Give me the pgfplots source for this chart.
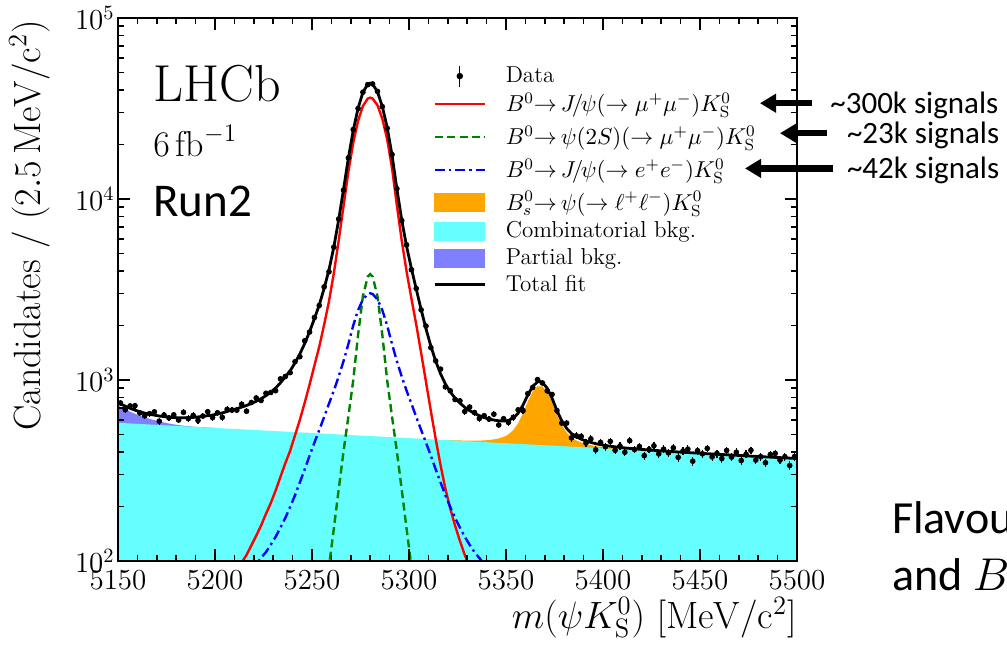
\RequirePackage{fix-cm}
\documentclass[border=0pt]{standalone}
\usepackage{fontspec}
\newfontfamily\carlito{Carlito}
\usepackage{pgfplots}
\pgfplotsset{compat=1.18}
\usepackage{pgfplotstable}
\usetikzlibrary{arrows.meta}
\definecolor{combc}{RGB}{102,255,255}
\definecolor{partc}{RGB}{128,128,255}
\definecolor{bsc}{RGB}{255,165,0}
\definecolor{grn}{RGB}{0,128,0}
\DeclareRobustCommand\legData{Data}
\DeclareRobustCommand\legRed{$B^0{\to}\, J\mskip-3mu/\mskip-2mu\psi(\to\mu^+\mu^-)K^0_{\mathrm{S}}$}
\DeclareRobustCommand\legGreen{$B^0{\to}\,\psi(2S)(\to\mu^+\mu^-)K^0_{\mathrm{S}}$}
\DeclareRobustCommand\legBlue{$B^0{\to}\, J\mskip-3mu/\mskip-2mu\psi(\to e^+e^-)K^0_{\mathrm{S}}$}
\DeclareRobustCommand\legBs{$B^0_s{\to}\,\psi(\to\ell^+\ell^-)K^0_{\mathrm{S}}$}
\DeclareRobustCommand\legComb{Combinatorial bkg.}
\DeclareRobustCommand\legPart{Partial bkg.}
\DeclareRobustCommand\legTot{Total fit}

\pgfplotstableread{
x y e
5151.25 747 27
5153.75 685 27
5156.25 719 26
5158.75 721 26
5161.25 658 26
5163.75 634 26
5166.25 652 25
5168.75 667 25
5171.25 592 25
5173.75 640 25
5176.25 618 25
5178.75 642 25
5181.25 601 25
5183.75 663 25
5186.25 612 25
5188.75 637 25
5191.25 598 25
5193.75 632 25
5196.25 668 25
5198.75 620 25
5201.25 659 25
5203.75 622 26
5206.25 688 26
5208.75 682 26
5211.25 681 26
5213.75 735 27
5216.25 672 27
5218.75 751 27
5221.25 796 28
5223.75 771 28
5226.25 845 29
5228.75 853 29
5231.25 873 30
5233.75 1015 31
5236.25 1046 32
5238.75 1098 34
5241.25 1262 35
5243.75 1345 37
5246.25 1647 40
5248.75 1841 43
5251.25 2215 47
5253.75 2581 51
5256.25 3269 57
5258.75 3961 64
5261.25 5416 74
5263.75 7753 88
5266.25 11197 106
5268.75 16875 130
5271.25 24174 155
5273.75 31637 178
5276.25 38921 197
5278.75 42841 208
5281.25 43213 208
5283.75 39335 198
5286.25 32372 180
5288.75 24591 158
5291.25 17601 132
5293.75 11406 107
5296.25 7602 88
5298.75 5578 74
5301.25 4065 64
5303.75 3204 56
5306.25 2440 50
5308.75 1987 44
5311.25 1510 39
5313.75 1275 36
5316.25 1149 33
5318.75 917 31
5321.25 872 29
5323.75 780 28
5326.25 767 27
5328.75 670 27
5331.25 709 26
5333.75 661 26
5336.25 613 25
5338.75 635 25
5341.25 608 25
5343.75 647 25
5346.25 564 24
5348.75 611 24
5351.25 583 24
5353.75 622 25
5356.25 684 26
5358.75 678 27
5361.25 841 29
5363.75 909 30
5366.25 1005 31
5368.75 963 31
5371.25 871 30
5373.75 832 28
5376.25 678 26
5378.75 578 24
5381.25 578 23
5383.75 479 22
5386.25 492 22
5388.75 488 22
5391.25 449 21
5393.75 473 21
5396.25 411 21
5398.75 452 21
5401.25 428 21
5403.75 458 21
5406.25 409 21
5408.75 432 21
5411.25 399 21
5413.75 462 20
5416.25 413 20
5418.75 429 20
5421.25 382 20
5423.75 413 20
5426.25 433 20
5428.75 391 20
5431.25 415 20
5433.75 396 20
5436.25 422 20
5438.75 374 20
5441.25 405 20
5443.75 415 20
5446.25 356 20
5448.75 407 20
5451.25 391 20
5453.75 419 20
5456.25 376 20
5458.75 393 20
5461.25 368 20
5463.75 408 20
5466.25 375 20
5468.75 399 20
5471.25 359 20
5473.75 389 20
5476.25 409 20
5478.75 361 19
5481.25 377 19
5483.75 349 19
5486.25 388 19
5488.75 393 19
5491.25 361 19
5493.75 377 19
5496.25 337 19
5498.75 378 19
}\datatab

\pgfplotstableread{
x y
5150 749
5151.25 738.5
5153.75 717
5156.25 697.6
5158.75 681.5
5161.25 668.1
5163.75 656.6
5166.25 646.9
5168.75 639.6
5171.25 632.6
5173.75 627.4
5176.25 622.9
5178.75 620.1
5181.25 618.9
5183.75 618.6
5186.25 619.8
5188.75 621.7
5191.25 625.2
5193.75 629.9
5196.25 635.1
5198.75 640.4
5201.25 648.6
5203.75 657.8
5206.25 670.1
5208.75 682.3
5211.25 694.6
5213.75 708.8
5216.25 723.1
5218.75 742.4
5221.25 762.6
5223.75 787.9
5226.25 819.3
5228.75 855.6
5231.25 902.9
5233.75 965.2
5236.25 1039.5
5238.75 1124.3
5241.25 1244
5243.75 1393.5
5246.25 1590.8
5248.75 1849.2
5251.25 2182.5
5253.75 2600.9
5256.25 3206.2
5258.75 4056.6
5261.25 5416
5263.75 7683
5266.25 11293
5268.75 16836
5271.25 23911
5273.75 31744
5276.25 38842
5278.75 43090
5280 43650
5281.25 43088
5283.75 39137
5286.25 32426
5288.75 24859
5291.25 17482
5293.75 11385
5296.25 7663
5298.75 5482
5301.25 4129
5303.75 3176
5306.25 2450
5308.75 1921
5311.25 1541
5313.75 1271
5316.25 1083
5318.75 951
5321.25 860.6
5323.75 794
5326.25 745.4
5328.75 706.7
5331.25 678.1
5333.75 653.1
5336.25 635.6
5338.75 619.7
5341.25 610.3
5343.75 600.8
5346.25 595.3
5348.75 593.9
5351.25 597.5
5353.75 617
5356.25 655.6
5358.75 726.1
5361.25 826.7
5363.75 921.3
5366.25 976.8
5367.5 981
5368.75 969.4
5371.25 901
5373.75 792.6
5376.25 678.2
5378.75 594.8
5381.25 540.9
5383.75 506
5386.25 485.1
5388.75 470.8
5391.25 460.1
5393.75 451.9
5396.25 444.8
5398.75 439.4
5401.25 434.7
5403.75 430.6
5406.25 427.4
5408.75 424.2
5411.25 421.4
5413.75 418.9
5416.25 416.7
5418.75 414.6
5421.25 412.5
5426.25 408.7
5431.25 405.1
5436.25 401.9
5441.25 398.9
5446.25 395.9
5451.25 393.1
5456.25 390.3
5461.25 387.6
5466.25 385.0
5471.25 382.4
5476.25 379.8
5481.25 377.3
5486.25 374.9
5491.25 372.4
5496.25 370.0
5500 368.4
}\totaltab

\begin{document}
\begin{tikzpicture}[x=1pt,y=1pt]
\useasboundingbox (0,0) rectangle (503.5,330.5);
\clip (0,0) rectangle (503.5,330.5);
\begin{axis}[
  at={(59pt,50pt)}, anchor=south west,
  scale only axis, width=339.5pt, height=271.5pt,
  ymode=log, xmin=5150, xmax=5500, ymin=100, ymax=100000,
  xtick={5150,5200,...,5500}, minor x tick num=4,
  /pgf/number format/set thousands separator={},
  tick align=inside, tick pos=both,
  major tick length=6pt, minor tick length=3pt,
  every tick/.style={black, line width=0.8pt},
  axis line style={line width=1pt},
  axis on top,
  tick label style={font=\fontsize{14.5}{17}\selectfont},
  xticklabel style={inner ysep=0pt, yshift=-4.5pt},
  yticklabel style={inner xsep=0pt, xshift=-1.5pt},
  label style={font=\fontsize{19}{22}\selectfont},
  xlabel={$m(\psi K^0_{\mathrm{S}})$ $[\mathrm{MeV}/\mathrm{c}^2]$},
  xlabel style={at={(axis description cs:1,0)}, anchor=north east, inner sep=0pt, yshift=-18pt},
  ylabel={Candidates / $(2.5\,\mathrm{MeV}/\mathrm{c}^2)$},
  ylabel style={at={(axis description cs:-0.100,0.9963)}, anchor=south east, inner sep=0pt},
  legend cell align=left,
  legend style={draw=none, fill=none, at={(axis description cs:0.4639,0.9147)}, anchor=north west, inner sep=0pt, row sep=0pt, nodes={inner sep=0pt}, font=\fontsize{11.5}{13.8}\selectfont, /tikz/every odd column/.append style={column sep=9.8pt}},
]
\addlegendimage{legend image code/.code={\path (0pt,-5.5pt) (25pt,5.5pt); \draw[black,line width=0.7pt] (12.5pt,-5.2pt)--(12.5pt,5.2pt); \fill[black] (12.5pt,0pt) circle (1.4pt);}}
\addlegendentry{\legData}
\addlegendimage{legend image code/.code={\path (0pt,-7.9pt) (25pt,7.9pt); \draw[red,line width=1.2pt] (0pt,0pt)--(25pt,0pt);}}
\addlegendentry{\legRed}
\addlegendimage{legend image code/.code={\path (0pt,-8.3pt) (25pt,8.3pt); \draw[grn,line width=1.2pt,dash pattern=on 4pt off 2.2pt] (0pt,0pt)--(25pt,0pt);}}
\addlegendentry{\legGreen}
\addlegendimage{legend image code/.code={\path (0pt,-7.8pt) (25pt,7.8pt); \draw[blue,line width=1.2pt,dash pattern=on 5pt off 2pt on 1.2pt off 2pt] (0pt,0pt)--(25pt,0pt);}}
\addlegendentry{\legBlue}
\addlegendimage{legend image code/.code={\path (0pt,-8.0pt) (25pt,8.0pt); \fill[bsc] (0pt,-4.5pt) rectangle (25pt,4.5pt);}}
\addlegendentry{\legBs}
\addlegendimage{legend image code/.code={\path (0pt,-6.0pt) (25pt,6.0pt); \fill[combc] (0pt,-4.5pt) rectangle (25pt,4.5pt);}}
\addlegendentry{\legComb}
\addlegendimage{legend image code/.code={\path (0pt,-7.0pt) (25pt,7.0pt); \fill[partc] (0pt,-4.5pt) rectangle (25pt,4.5pt);}}
\addlegendentry{\legPart}
\addlegendimage{legend image code/.code={\path (0pt,-6.0pt) (25pt,6.0pt); \draw[black,line width=1.4pt] (0pt,0pt)--(25pt,0pt);}}
\addlegendentry{\legTot}

\addplot[fill=partc, draw=none, forget plot] coordinates {(5150,100) (5150,725) (5151.25,712.1) (5153.75,689.2) (5156.25,668.3) (5158.75,650.5) (5161.25,635.6) (5163.75,621.8) (5166.25,609.9) (5168.75,600.1) (5171.25,590.3) (5173.75,582.4) (5176.25,575) (5178.75,568.7) (5181.25,563.4) (5183.75,559.1) (5186.25,555.8) (5188.75,552.7) (5191.25,550.2) (5200,543.5) (5200,100)};
\addplot[fill=bsc, draw=none, forget plot] coordinates {(5318.75,100) (5318.75,465.5) (5321.25,465.1) (5323.75,464.0) (5326.25,463.4) (5328.75,462.7) (5331.25,462.1) (5333.75,462.1) (5336.25,462.6) (5338.75,463.7) (5341.25,466.3) (5343.75,469.8) (5346.25,475.3) (5348.75,484.9) (5351.25,500.5) (5353.75,529) (5356.25,576.6) (5358.75,654.1) (5361.25,760.7) (5363.75,863.3) (5366.25,923.8) (5368.75,922.4) (5371.25,859) (5373.75,753.6) (5376.25,644.2) (5378.75,563.8) (5381.25,513.4) (5383.75,482) (5386.25,463.6) (5388.75,451.2) (5391.25,442.8) (5393.75,436.5) (5396.25,431.1) (5398.75,427.1) (5401.25,423.8) (5403.75,420.9) (5406.25,418.7) (5408.75,416.5) (5411.25,414.6) (5413.75,412.8) (5413.75,100)};
\addplot[fill=combc, draw=none, forget plot] coordinates {(5150,100) (5150,580) (5500,368.3) (5500,100)};

\addplot[red, line width=1.2pt, forget plot] coordinates {(5203.75,62) (5206.25,71) (5208.75,79) (5211.25,88) (5213.75,98) (5216.25,108) (5218.75,122) (5221.25,138) (5223.75,157) (5226.25,182) (5228.75,209) (5231.25,245) (5233.75,292) (5236.25,347) (5238.75,407) (5241.25,495) (5243.75,603) (5246.25,750) (5248.75,944) (5251.25,1202) (5253.75,1530) (5256.25,2020) (5258.75,2720) (5261.25,3890) (5263.75,5890) (5266.25,9120) (5268.75,14130) (5271.25,20420) (5273.75,27040) (5276.25,32660) (5278.75,35890) (5280,36300) (5281.25,35890) (5283.75,32960) (5286.25,27730) (5288.75,21380) (5291.25,14790) (5293.75,9230) (5296.25,5890) (5298.75,3980) (5301.25,2820) (5303.75,2020) (5306.25,1413) (5308.75,977) (5311.25,676) (5313.75,473) (5316.25,339) (5318.75,251) (5321.25,195) (5323.75,157) (5326.25,129) (5328.75,108) (5331.25,93) (5333.75,79) (5336.25,69)};
\addplot[grn, line width=1.2pt, dash pattern=on 4pt off 2.2pt, forget plot] coordinates {(5253.75,34) (5256.25,57) (5258.75,93) (5261.25,151) (5263.75,248) (5266.25,403) (5268.75,628) (5271.25,995) (5273.75,1778) (5276.25,2904) (5278.75,3724) (5280,3846) (5281.25,3724) (5283.75,2904) (5286.25,1778) (5288.75,995) (5291.25,628) (5293.75,403) (5296.25,248) (5298.75,151) (5301.25,93) (5303.75,57) (5306.25,34)};
\addplot[blue, line width=1.2pt, dash pattern=on 5pt off 2pt on 1.2pt off 2pt, forget plot] coordinates {(5211.25,71) (5213.75,77) (5216.25,83) (5218.75,90) (5221.25,96) (5223.75,104) (5226.25,112) (5228.75,123) (5231.25,136) (5233.75,153) (5236.25,173) (5238.75,199) (5241.25,231) (5243.75,272) (5246.25,321) (5248.75,382) (5251.25,451) (5253.75,530) (5256.25,624) (5258.75,740) (5261.25,873) (5263.75,1045) (5266.25,1271) (5268.75,1581) (5271.25,2000) (5273.75,2432) (5276.25,2786) (5278.75,2985) (5280,3013) (5281.25,2985) (5283.75,2786) (5286.25,2432) (5288.75,2000) (5291.25,1581) (5293.75,1271) (5296.25,1045) (5298.75,873) (5301.25,740) (5303.75,624) (5306.25,530) (5308.75,451) (5311.25,382) (5313.75,321) (5316.25,272) (5318.75,231) (5321.25,199) (5323.75,173) (5326.25,153) (5328.75,136) (5331.25,123) (5333.75,112) (5336.25,104) (5338.75,96) (5341.25,90) (5343.75,83) (5346.25,77) (5348.75,71)};
\addplot[black, line width=1.4pt, forget plot] table[x=x,y=y] {\totaltab};
\addplot[black, only marks, mark=*, mark size=1.2pt, forget plot,
  error bars/.cd, y dir=both, y explicit, error mark=none, error bar style={line width=0.6pt}]
  table[x=x, y=y, y error=e] {\datatab};
\end{axis}
\node[anchor=base west, inner sep=0pt] at (76.5,279.6) {\fontsize{26}{30}\selectfont LHCb};
\node[anchor=base west, inner sep=0pt] at (76.5,252.2) {\fontsize{18}{21}\selectfont $6\,\mathrm{fb}^{-1}$};
\node[anchor=base west, inner sep=0pt] at (76.5,222.2) {\carlito\fontsize{23.5}{27}\selectfont Run2};
\draw[line width=3.2pt, -{Triangle[length=8pt,width=9pt]}] (405.9,278.9) -- (380,278.9);
\draw[line width=3.2pt, -{Triangle[length=8pt,width=9pt]}] (413.3,263.9) -- (390,263.9);
\draw[line width=3.2pt, -{Triangle[length=8pt,width=9pt]}] (416.5,246.3) -- (372.5,246.3);
\node[anchor=base west, inner sep=0pt] at (415,274) {\carlito\fontsize{15.5}{18}\selectfont\textasciitilde 300k signals};
\node[anchor=base west, inner sep=0pt] at (423.3,259) {\carlito\fontsize{15.5}{18}\selectfont\textasciitilde 23k signals};
\node[anchor=base west, inner sep=0pt] at (423.3,241.3) {\carlito\fontsize{15.5}{18}\selectfont\textasciitilde 42k signals};
\node[anchor=base west, inner sep=0pt] at (445.8,64) {\carlito\fontsize{23}{27}\selectfont Flavour tagging};
\node[anchor=base west, inner sep=0pt] at (445.8,35.5) {\carlito\fontsize{23}{27}\selectfont and $B$};
\end{tikzpicture}
\end{document}
